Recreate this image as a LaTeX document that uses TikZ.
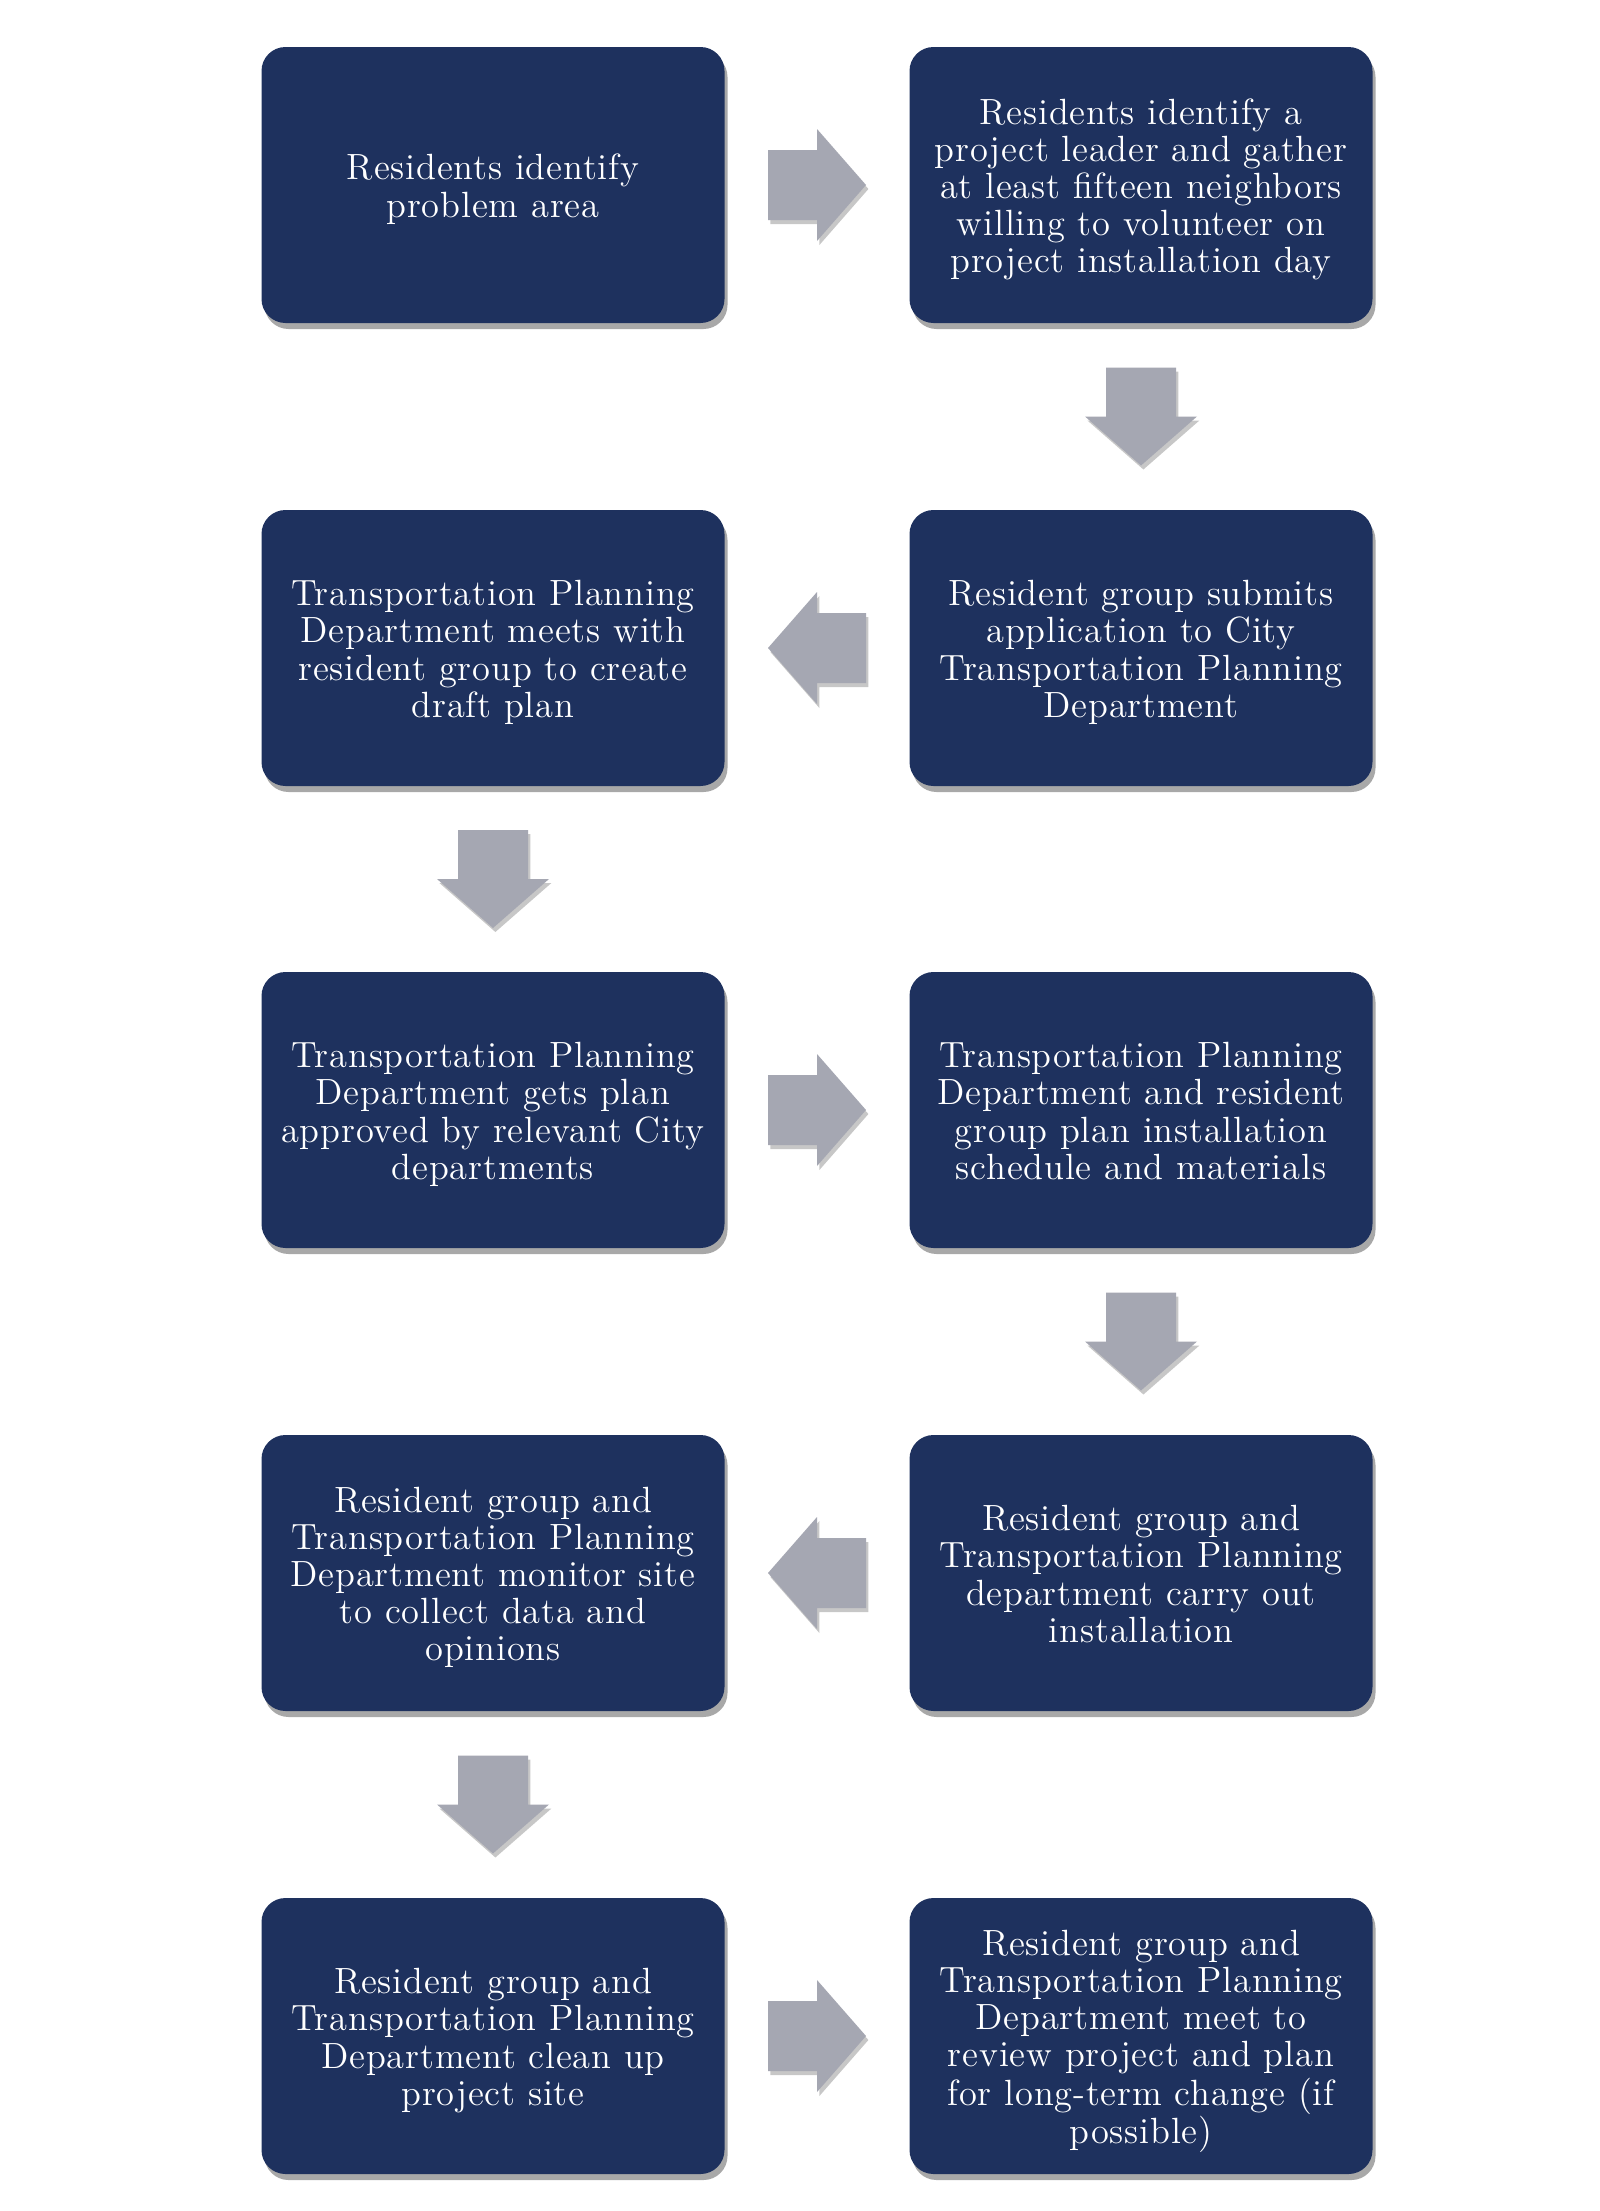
\documentclass[tikz,border=0pt]{standalone}
\usetikzlibrary{shadows,calc}
\definecolor{navy}{RGB}{30,49,94}
\definecolor{agray}{RGB}{165,167,178}
\font\boxfont="[lmroman12-regular]:+tlig;letterspace=2.3" at 18.24pt
\tikzset{
  stepbox/.style={draw=none, fill=navy, rounded corners=12pt,
    minimum width=231.5pt, minimum height=138pt, text=white, inner sep=0pt,
    drop shadow={shadow xshift=1.5pt, shadow yshift=-3pt, opacity=0.45, fill=black!75}},
  blk/.style={fill=agray, drop shadow={shadow xshift=1.2pt, shadow yshift=-2pt, opacity=0.22, fill=black}}
}
\newcommand\bt[1]{\vbox{\vskip6pt\hbox{\fontsize{18.24}{18.6}\selectfont\boxfont\begin{tabular}{@{}c@{}}#1\end{tabular}}}}
\newcommand\blkarrow[4]{%
  \begin{scope}[shift={($(#1)!0.5!(#2)$)}, x={#3}, y={#4}]
    \fill[blk] (-49,35) -- (0,35) -- (0,56) -- (49,0) -- (0,-56) -- (0,-35) -- (-49,-35) -- cycle;
  \end{scope}}
\begin{document}
\begin{tikzpicture}[x=0.5pt,y=0.5pt]
  \fill[white] (0,0) rectangle (1600,-2211);
  \useasboundingbox (0,0) rectangle (1600,-2211);
  \node[stepbox] (n1) at (493,-185) {\bt{Residents identify\\problem area}};
  \node[stepbox] (n2) at (1141,-185) {\bt{Residents identify a\\project leader and gather\\at least fifteen neighbors\\willing to volunteer on\\project installation day}};
  \node[stepbox] (n3) at (1141,-648) {\bt{Resident group submits\\application to City\\Transportation Planning\\Department}};
  \node[stepbox] (n4) at (493,-648) {\bt{Transportation Planning\\Department meets with\\resident group to create\\draft plan}};
  \node[stepbox] (n5) at (493,-1110) {\bt{Transportation Planning\\Department gets plan\\approved by relevant City\\departments}};
  \node[stepbox] (n6) at (1141,-1110) {\bt{Transportation Planning\\Department and resident\\group plan installation\\schedule and materials}};
  \node[stepbox] (n7) at (1141,-1573) {\bt{Resident group and\\Transportation Planning\\department carry out\\installation}};
  \node[stepbox] (n8) at (493,-1573) {\bt{Resident group and\\Transportation Planning\\Department monitor site\\to collect data and\\opinions}};
  \node[stepbox] (n9) at (493,-2036) {\bt{Resident group and\\Transportation Planning\\Department clean up\\project site}};
  \node[stepbox] (n10) at (1141,-2036) {\bt{Resident group and\\Transportation Planning\\Department meet to\\review project and plan\\for long-term change (if\\possible)}};
  % block arrows
  \blkarrow{n1.east}{n2.west}{(0.5pt,0pt)}{(0pt,0.5pt)}
  \blkarrow{n2.south}{n3.north}{(0pt,-0.5pt)}{(0.5pt,0pt)}
  \blkarrow{n3.west}{n4.east}{(-0.5pt,0pt)}{(0pt,0.5pt)}
  \blkarrow{n4.south}{n5.north}{(0pt,-0.5pt)}{(0.5pt,0pt)}
  \blkarrow{n5.east}{n6.west}{(0.5pt,0pt)}{(0pt,0.5pt)}
  \blkarrow{n6.south}{n7.north}{(0pt,-0.5pt)}{(0.5pt,0pt)}
  \blkarrow{n7.west}{n8.east}{(-0.5pt,0pt)}{(0pt,0.5pt)}
  \blkarrow{n8.south}{n9.north}{(0pt,-0.5pt)}{(0.5pt,0pt)}
  \blkarrow{n9.east}{n10.west}{(0.5pt,0pt)}{(0pt,0.5pt)}
\end{tikzpicture}
\end{document}
